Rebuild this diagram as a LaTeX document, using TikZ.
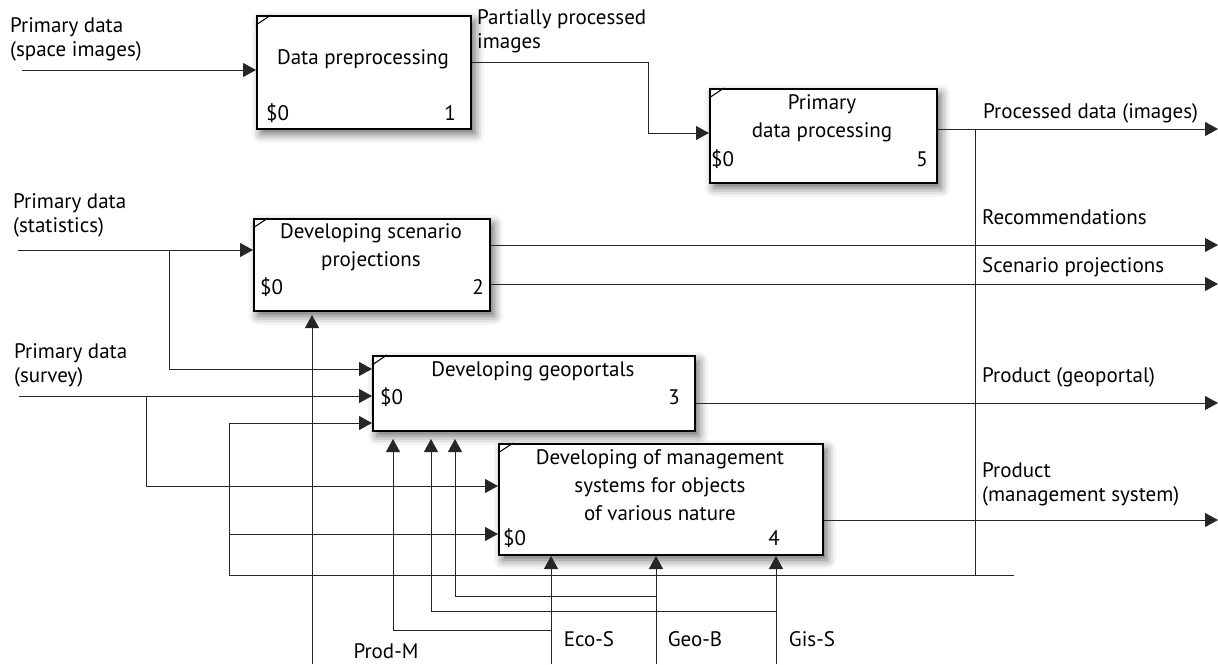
\documentclass[tikz,border=0pt]{standalone}
\usepackage{fontspec}
\setmainfont{PT Sans}
\usetikzlibrary{arrows.meta,shadows.blur}
\tikzset{
  every node/.style={font=\fontsize{21}{24}\selectfont, inner sep=0pt},
  box/.style={draw=black, line width=2pt, fill=white, anchor=north west,
    blur shadow={shadow xshift=4pt, shadow yshift=-5pt, shadow blur radius=9pt, shadow opacity=60}},
  boxtext/.style={align=center, font=\fontsize{21}{28}\selectfont},
  flow/.style={line width=1pt, draw=black!85},
  arr/.style={flow, -{Triangle[length=13pt,width=14pt]}},
  lbl/.style={anchor=west, align=left},
}
\begin{document}
\begin{tikzpicture}[x=1pt,y=-1pt]
\useasboundingbox (0,0) rectangle (1218,664);

% activity boxes
\node[box, minimum width=214pt, minimum height=113pt] (b1) at (256,15) {};
\node[box, minimum width=227pt, minimum height=94pt]  (b5) at (709,88) {};
\node[box, minimum width=236pt, minimum height=92pt]  (b2) at (253,218) {};
\node[box, minimum width=322pt, minimum height=75pt]  (b3) at (372,355) {};
\node[box, minimum width=324pt, minimum height=111pt] (b4) at (498,443) {};
\foreach \b in {b1,b5,b2,b3,b4}
  \draw[line width=1pt] ([yshift=-10pt]\b.north west) -- ([xshift=15pt]\b.north west);

% box texts
\node (t1) at (363,59) {Data preprocessing};
\node[anchor=west] (c1) at (266,113) {\$0};
\node[anchor=east] (n1) at (456,113) {1};

\node[boxtext] (t5) at (822,118) {Primary\\data processing};
\node[anchor=west] (c5) at (711,159) {\$0};
\node[anchor=east] (n5) at (928,159) {5};

\node[boxtext] (t2) at (371,247) {Developing scenario\\projections};
\node[anchor=west] (c2) at (260,287) {\$0};
\node[anchor=east] (n2) at (484,287) {2};

\node (t3) at (533,371) {Developing geoportals};
\node[anchor=west] (c3) at (380,397) {\$0};
\node[anchor=east] (n3) at (680,397) {3};

\node[boxtext] (t4) at (660,485) {Developing of management\\systems for objects\\of various nature};
\node[anchor=west] (c4) at (503,538) {\$0};
\node[anchor=east] (n4) at (780,538) {4};

% arrow labels
\node[lbl] (l1)  at (10,39)   {Primary data\\(space images)};
\node[lbl] (l2)  at (477,31)  {Partially processed\\images};
\node[lbl] (l5)  at (983,113) {Processed data (images)};
\node[lbl] (lst) at (13,215)  {Primary data\\(statistics)};
\node[lbl] (lre) at (982,217) {Recommendations};
\node[lbl] (lsp) at (982,267) {Scenario projections};
\node[lbl] (lsv) at (14,365)  {Primary data\\(survey)};
\node[lbl] (lgp) at (982,377) {Product (geoportal)};
\node[lbl] (lms) at (982,484) {Product\\(management system)};
\node (leco) at (589,639) {Eco-S};
\node (lgeo) at (695,639) {Geo-B};
\node (lgis) at (812,639) {Gis-S};
\node (lpro) at (386,651) {Prod-M};

% inputs
\coordinate (in1) at (22,70);
\draw[arr] (in1) -- (in1 -| b1.west);

\coordinate (p1) at (648,62);
\coordinate (p1b) at (648,133);
\draw[arr] (b1.east |- p1) -- (p1) -- (p1b) -- (p1b -| b5.west);

\coordinate (in2) at (18,250);
\draw[arr] (in2) -- (in2 -| b2.west);
\coordinate (j2) at (169,250);
\coordinate (j2b) at (169,369);
\draw[arr] (j2) -- (j2b) -- (j2b -| b3.west);

\coordinate (in3) at (19,396);
\draw[arr] (in3) -- (in3 -| b3.west);
\coordinate (j3) at (146,396);
\coordinate (j3b) at (146,486);
\draw[arr] (j3) -- (j3b) -- (j3b -| b4.west);

% feedback loop
\coordinate (k1) at (229,423);
\coordinate (k2) at (229,534);
\coordinate (k3) at (229,575);
\coordinate (k4) at (1014,575);
\draw[arr] (k3) -- (k1) -- (k1 -| b3.west);
\draw[arr] (k2) -- (k2 -| b4.west);
\draw[flow] (k3) -- (k4);

% outputs
\coordinate (o5) at (1218,129);
\draw[arr] (b5.east |- o5) -- (o5);
\coordinate (busT) at (975,129);
\coordinate (busB) at (975,575);
\draw[flow] (busT) -- (busB);
\coordinate (o2a) at (1218,245);
\draw[arr] (b2.east |- o2a) -- (o2a);
\coordinate (o2b) at (1218,284);
\draw[arr] (b2.east |- o2b) -- (o2b);
\coordinate (o3) at (1218,403);
\draw[arr] (b3.east |- o3) -- (o3);
\coordinate (o4) at (1218,520);
\draw[arr] (b4.east |- o4) -- (o4);

% mechanisms
\coordinate (mP) at (312,664);
\draw[arr] (mP) -- ([yshift=-3pt]mP |- b2.south);

\coordinate (mE) at (551,664);
\coordinate (mEb) at (551,630);
\coordinate (mEc) at (393,630);
\draw[arr] (mE) -- (mE |- b4.south);
\draw[arr] (mEb) -- (mEc) -- ([yshift=-7pt]mEc |- b3.south);

\coordinate (mG) at (656,664);
\coordinate (mGb) at (656,596);
\coordinate (mGc) at (455,596);
\draw[arr] (mG) -- (mG |- b4.south);
\draw[arr] (mGb) -- (mGc) -- ([yshift=-7pt]mGc |- b3.south);

\coordinate (mS) at (776,664);
\coordinate (mSb) at (776,611);
\coordinate (mSc) at (431,611);
\draw[arr] (mS) -- (mS |- b4.south);
\draw[arr] (mSb) -- (mSc) -- ([yshift=-7pt]mSc |- b3.south);
\end{tikzpicture}
\end{document}
